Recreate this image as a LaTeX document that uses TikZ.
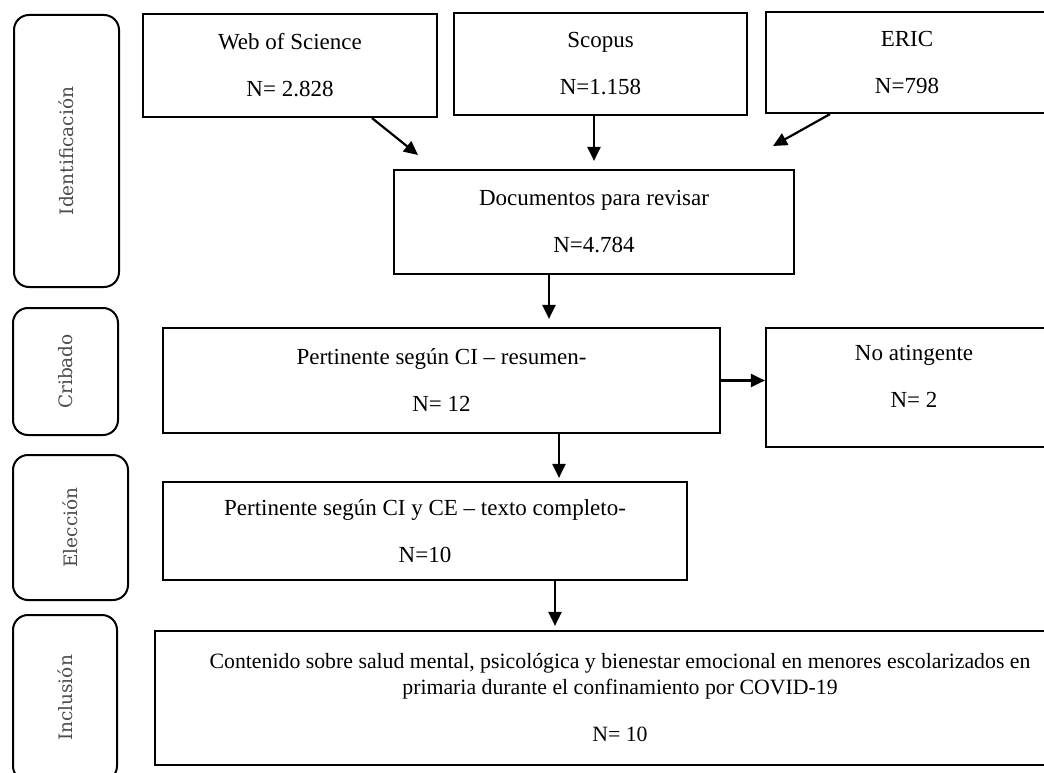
\documentclass[tikz,border=0pt]{standalone}
\usepackage{fontspec}
\setmainfont{Liberation Serif}
\newfontfamily\phasefont{DejaVu Serif}
\usetikzlibrary{arrows.meta}
\tikzset{
  fase/.style={draw, line width=2pt, rounded corners=15pt, rotate=90, font=\phasefont\fontsize{18.5}{22}\selectfont, text=black!70},
  caja/.style={draw, line width=2.2pt, align=center, inner sep=0pt, font=\fontsize{23}{26}\selectfont},
  flecha/.style={line width=2.2pt, -{Triangle[length=14pt,width=13pt]}}
}
\begin{document}
\begin{tikzpicture}[x=1pt,y=-1pt]
    \useasboundingbox (0,0) rectangle (1044,773);
    \clip (0,0) rectangle (1044,773);

    \node[fase, minimum width=272pt, minimum height=105pt] (ident) at (66.5,151) {Identificación};
    \node[fase, minimum width=127pt, minimum height=105pt] (crib) at (65.5,371.5) {Cribado};
    \node[fase, minimum width=145pt, minimum height=115pt] (elec) at (70.5,527.5) {Elección};
    \node[fase, minimum width=166pt, minimum height=104pt] (inclu) at (65,698) {Inclusión};

    \node[caja, minimum width=294pt, minimum height=103pt] (wos) at (290,65.5) {Web of Science\\[21pt]N= 2.828};
    \node[caja, minimum width=293pt, minimum height=102pt] (scopus) at (600.5,64) {Scopus\\[21pt]N=1.158};
    \node[caja, minimum width=282pt, minimum height=101pt] (eric) at (907,62.5) {ERIC\\[21pt]N=798};
    \node[caja, minimum width=400pt, minimum height=104pt] (docs) at (594,222) {Documentos para revisar\\[21pt]N=4.784};
    \node[caja, minimum width=557pt, minimum height=105pt] (ci) at (441.5,380.5) {Pertinente según CI – resumen-\\[21pt]N= 12};
    \node[caja, minimum width=296pt, minimum height=119pt] (noat) at (914,387.5) {No atingente\\[21pt]N= 2\\[-4pt]};
    \node[caja, minimum width=524pt, minimum height=98pt] (ce) at (425,531) {Pertinente según CI y CE – texto completo-\\[21pt]N=10};
    \node[caja, minimum width=930pt, minimum height=134pt, font=\fontsize{21.8}{26}\selectfont] (incl) at (620,698) {Contenido sobre salud mental, psicológica y bienestar emocional en menores escolarizados en\\primaria durante el confinamiento por COVID-19\\[21pt]N= 10};

    \coordinate (pwos) at (418,155);
    \coordinate (peric) at (773,146);

    \draw[flecha] ([xshift=82pt]wos.south) -- (pwos);
    \draw[flecha, shorten >=8pt] (scopus.south -| docs.north) -- (docs.north);
    \draw[flecha] ([xshift=-77pt]eric.south) -- (peric);
    \draw[flecha, shorten >=8pt] ([xshift=-45pt]docs.south) -- ([xshift=-45pt]docs.south |- ci.north);
    \draw[flecha] (ci.east) -- (ci.east -| noat.west);
    \draw[flecha, shorten >=3pt] ([xshift=117.5pt]ci.south) -- ([xshift=117.5pt]ci.south |- ce.north);
    \draw[flecha, shorten >=4pt] ([xshift=130pt]ce.south) -- ([xshift=130pt]ce.south |- incl.north);
\end{tikzpicture}
\end{document}
